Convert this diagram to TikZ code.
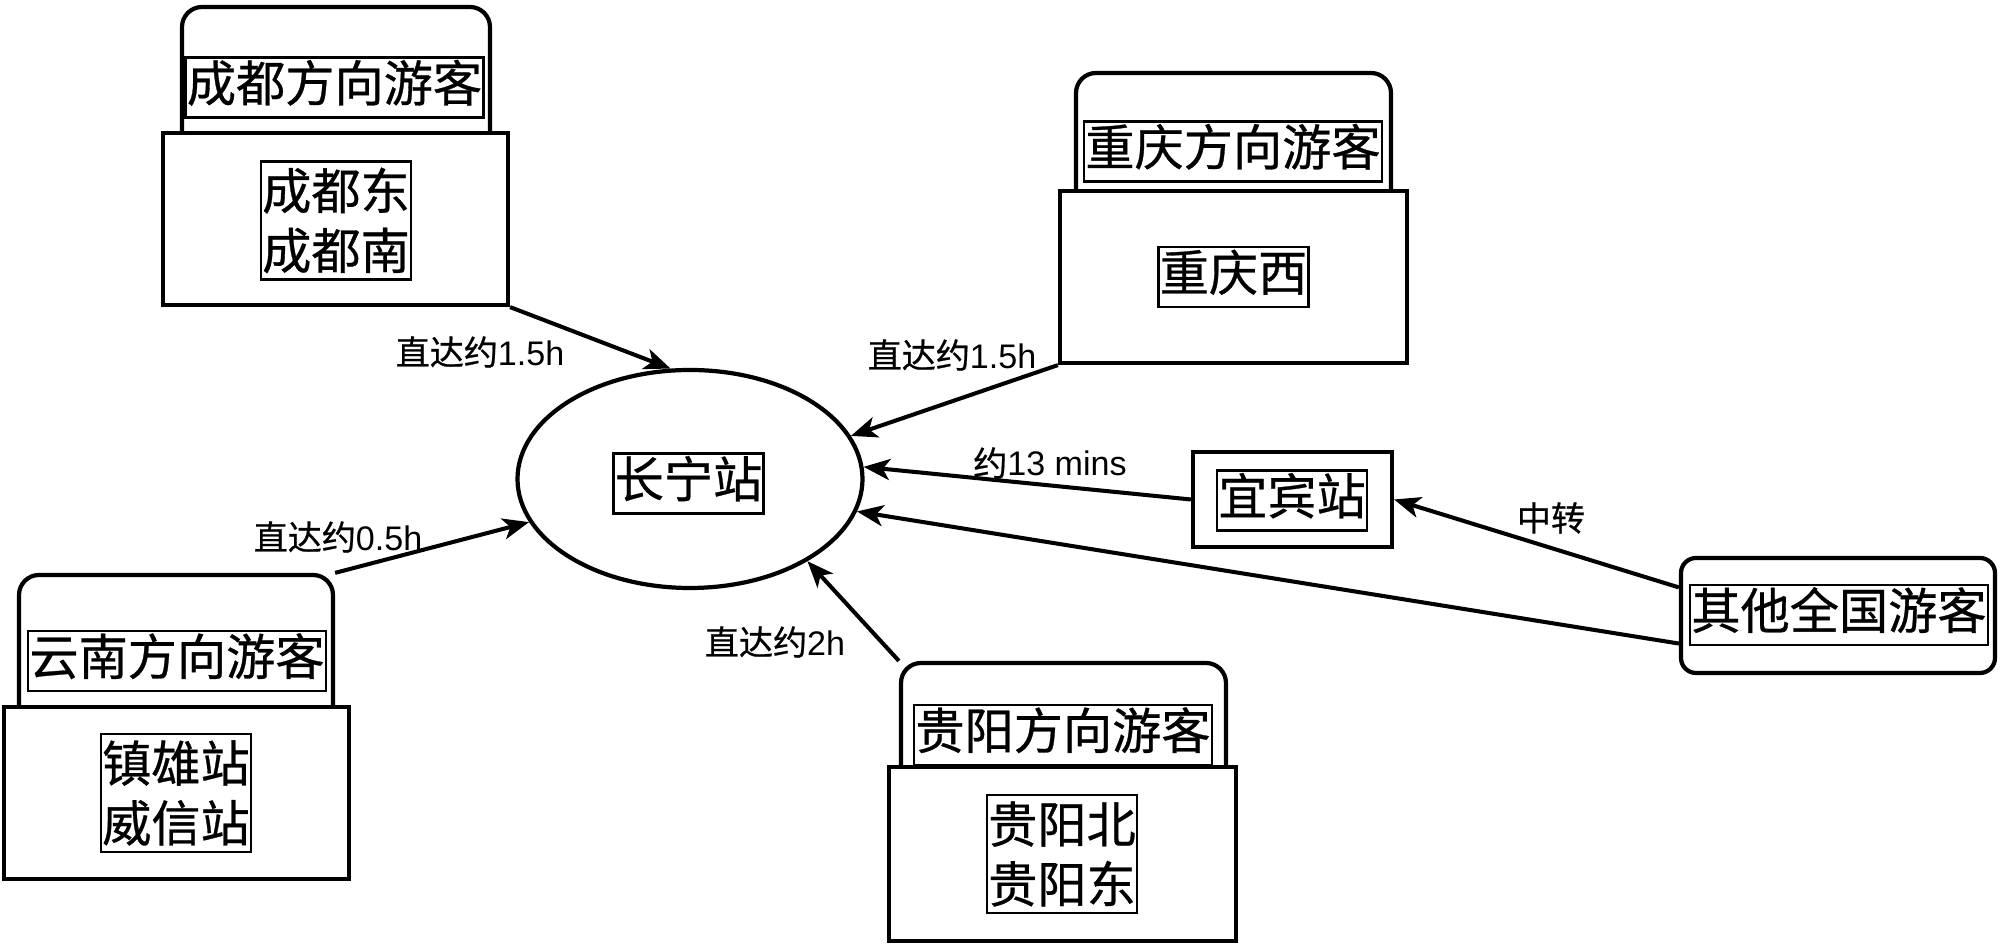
\documentclass[tikz,border=0pt]{standalone}
\usepackage{fontspec}
\setmainfont{Liberation Sans}
\newfontfamily\cjk[FakeBold=0.6]{Noto Sans CJK SC}
\usetikzlibrary{shapes.geometric,arrows.meta}

\begin{document}
\begin{tikzpicture}[x=0.1mm,y=-0.1mm,
	head/.style={draw,line width=1.2pt,rounded corners=2mm,fill=white},
	box/.style={draw,line width=1.2pt,fill=white},
	tag/.style={draw,line width=0.7pt,fill=white,inner xsep=0.4pt,inner ysep=0pt,text height=12.5pt,text depth=4.5pt,font=\cjk\fontsize{14}{17}\selectfont},
	stops/.style={draw,line width=0.7pt,fill=white,inner xsep=0.4pt,inner ysep=1.8pt,align=center,font=\cjk\fontsize{14}{17}\selectfont},
	note/.style={inner sep=0pt,font=\fontsize{9.7}{12}\selectfont},
	link/.style={line width=1.15pt,-{Stealth[length=7.5pt,width=6pt,inset=2pt]}}]
	\useasboundingbox (0,0) rectangle (2000,950);
	% Chengdu
	\node [head,minimum width=30.8mm,minimum height=15.3mm] (cdhead) at (336,83.5) {};
	\node [box,minimum width=34.5mm,minimum height=17.2mm] (cdbox) at (335.5,219) {};
	\node [tag] (cdtitle) at (334.5,87.5) {成都方向游客};
	\node [stops] (cdstops) at (336,220.5) {成都东\\成都南};
	% Chongqing
	\node [head,minimum width=31.5mm,minimum height=14.7mm] (cqhead) at (1233.5,146.5) {};
	\node [box,minimum width=34.7mm,minimum height=17.2mm] (cqbox) at (1233.5,277) {};
	\node [tag] (cqtitle) at (1233,151.5) {重庆方向游客};
	\node [tag] (cqstops) at (1233.5,277) {重庆西};
	% Yunnan
	\node [head,minimum width=31.4mm,minimum height=15.5mm] (ynhead) at (176,652.5) {};
	\node [box,minimum width=34.5mm,minimum height=17.2mm] (ynbox) at (176.5,793) {};
	\node [tag] (yntitle) at (177,661) {云南方向游客};
	\node [stops] (ynstops) at (176,793) {镇雄站\\威信站};
	% Guiyang
	\node [head,minimum width=32.5mm,minimum height=13.7mm] (gyhead) at (1063.5,731.5) {};
	\node [box,minimum width=34.7mm,minimum height=17.4mm] (gybox) at (1062.5,854) {};
	\node [tag] (gytitle) at (1063,735) {贵阳方向游客};
	\node [stops] (gystops) at (1062,854) {贵阳北\\贵阳东};
	% Changning, Yibin and the rest
	\node [ellipse,draw,line width=1.2pt,minimum width=34.5mm,minimum height=21.8mm] (cn) at (690,479) {};
	\node [tag] (cntitle) at (688.5,483.5) {长宁站};
	\node [box,minimum width=19.9mm,minimum height=9.5mm] (yb) at (1292.5,499.5) {};
	\node [tag] (ybtitle) at (1292,500.5) {宜宾站};
	\node [head,rounded corners=1.5mm,minimum width=31.4mm,minimum height=11.5mm] (other) at (1838,615.5) {};
	\node [tag] (othertitle) at (1839,615) {其他全国游客};
	% labels
	\node [note] (l1) at (480,352) {{\cjk 直达约}1.5h};
	\node [note] (l2) at (952,355) {{\cjk 直达约}1.5h};
	\node [note] (l3) at (1050,463) {{\cjk 约}13 mins};
	\node [note] (l4) at (1551,518) {{\cjk 中转}};
	\node [note] (l5) at (338,537) {{\cjk 直达约}0.5h};
	\node [note] (l6) at (775,642) {{\cjk 直达约}2h};
	% arrows
	\draw [link] (cdbox.south east) -- (cn.100);
	\draw [link] (cqbox.south west) -- (cn.15);
	\draw [link] (yb.west) -- (cn.4);
	\draw [link] (other.190) -- (cn.-11);
	\draw [link] (other.170) -- (yb.east);
	\draw [link] (ynhead.north east) -- (cn.195);
	\draw [link] (gyhead.north west) -- (cn.-35);
\end{tikzpicture}
\end{document}
